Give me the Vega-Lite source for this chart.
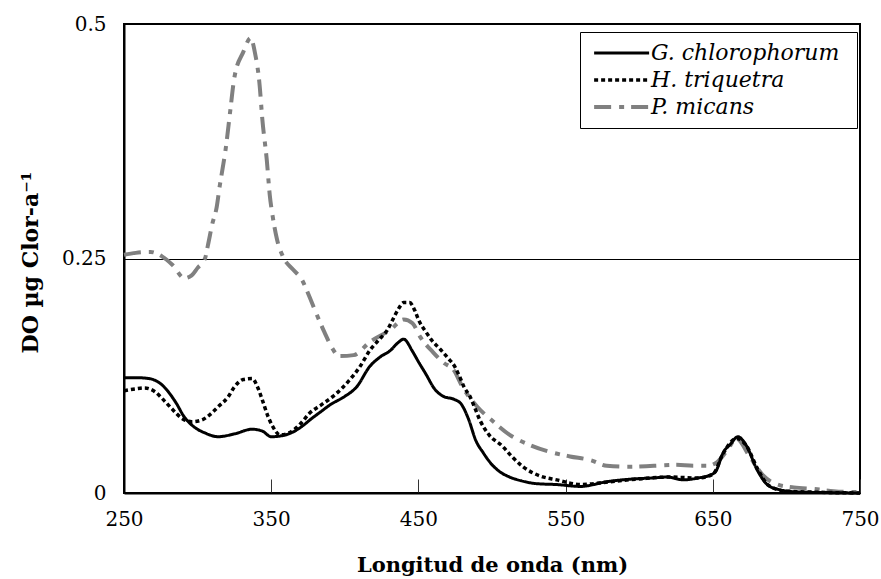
{
  "$schema": "https://vega.github.io/schema/vega-lite/v6.json",
  "width": 736,
  "height": 469,
  "autosize": {"type": "none"},
  "padding": {"left": 124, "top": 24, "right": 21, "bottom": 86},
  "background": "white",
  "config": {
    "view": {"stroke": "black", "strokeWidth": 2},
    "font": "DejaVu Serif",
    "axis": {
      "domainColor": "black",
      "domainWidth": 2,
      "labelColor": "black",
      "titleColor": "black",
      "labelFont": "DejaVu Serif",
      "titleFont": "DejaVu Serif"
    },
    "legend": {"labelFont": "DejaVu Serif"}
  },
  "datasets": {
    "spectra": [
      {"sp": "P.  micans", "wl": 250, "do": 0.254},
      {"sp": "P.  micans", "wl": 258, "do": 0.256},
      {"sp": "P.  micans", "wl": 268, "do": 0.257},
      {"sp": "P.  micans", "wl": 276, "do": 0.252},
      {"sp": "P.  micans", "wl": 283, "do": 0.243},
      {"sp": "P.  micans", "wl": 291, "do": 0.229},
      {"sp": "P.  micans", "wl": 296, "do": 0.232},
      {"sp": "P.  micans", "wl": 300, "do": 0.240},
      {"sp": "P.  micans", "wl": 305, "do": 0.250},
      {"sp": "P.  micans", "wl": 307, "do": 0.264},
      {"sp": "P.  micans", "wl": 310, "do": 0.287},
      {"sp": "P.  micans", "wl": 313, "do": 0.305},
      {"sp": "P.  micans", "wl": 315, "do": 0.327},
      {"sp": "P.  micans", "wl": 317, "do": 0.346},
      {"sp": "P.  micans", "wl": 319, "do": 0.366},
      {"sp": "P.  micans", "wl": 322, "do": 0.405},
      {"sp": "P.  micans", "wl": 325, "do": 0.443},
      {"sp": "P.  micans", "wl": 331, "do": 0.470},
      {"sp": "P.  micans", "wl": 336, "do": 0.485},
      {"sp": "P.  micans", "wl": 339, "do": 0.469},
      {"sp": "P.  micans", "wl": 342, "do": 0.437},
      {"sp": "P.  micans", "wl": 344, "do": 0.398},
      {"sp": "P.  micans", "wl": 347, "do": 0.355},
      {"sp": "P.  micans", "wl": 349, "do": 0.318},
      {"sp": "P.  micans", "wl": 351, "do": 0.295},
      {"sp": "P.  micans", "wl": 354, "do": 0.270},
      {"sp": "P.  micans", "wl": 358, "do": 0.252},
      {"sp": "P.  micans", "wl": 365, "do": 0.238},
      {"sp": "P.  micans", "wl": 371, "do": 0.227},
      {"sp": "P.  micans", "wl": 375, "do": 0.213},
      {"sp": "P.  micans", "wl": 381, "do": 0.190},
      {"sp": "P.  micans", "wl": 386, "do": 0.172},
      {"sp": "P.  micans", "wl": 392, "do": 0.153},
      {"sp": "P.  micans", "wl": 396, "do": 0.146},
      {"sp": "P.  micans", "wl": 406, "do": 0.147},
      {"sp": "P.  micans", "wl": 417, "do": 0.161},
      {"sp": "P.  micans", "wl": 431, "do": 0.174},
      {"sp": "P.  micans", "wl": 440, "do": 0.185},
      {"sp": "P.  micans", "wl": 446, "do": 0.181},
      {"sp": "P.  micans", "wl": 451, "do": 0.167},
      {"sp": "P.  micans", "wl": 460, "do": 0.150},
      {"sp": "P.  micans", "wl": 467, "do": 0.139},
      {"sp": "P.  micans", "wl": 474, "do": 0.131},
      {"sp": "P.  micans", "wl": 480, "do": 0.113},
      {"sp": "P.  micans", "wl": 490, "do": 0.092},
      {"sp": "P.  micans", "wl": 501, "do": 0.076},
      {"sp": "P.  micans", "wl": 512, "do": 0.062},
      {"sp": "P.  micans", "wl": 526, "do": 0.051},
      {"sp": "P.  micans", "wl": 539, "do": 0.044},
      {"sp": "P.  micans", "wl": 553, "do": 0.039},
      {"sp": "P.  micans", "wl": 567, "do": 0.035},
      {"sp": "P.  micans", "wl": 578, "do": 0.029},
      {"sp": "P.  micans", "wl": 592, "do": 0.028},
      {"sp": "P.  micans", "wl": 610, "do": 0.029},
      {"sp": "P.  micans", "wl": 625, "do": 0.030},
      {"sp": "P.  micans", "wl": 637, "do": 0.029},
      {"sp": "P.  micans", "wl": 646, "do": 0.029},
      {"sp": "P.  micans", "wl": 653, "do": 0.033},
      {"sp": "P.  micans", "wl": 660, "do": 0.046},
      {"sp": "P.  micans", "wl": 666, "do": 0.058},
      {"sp": "P.  micans", "wl": 675, "do": 0.039},
      {"sp": "P.  micans", "wl": 684, "do": 0.019},
      {"sp": "P.  micans", "wl": 694, "do": 0.009},
      {"sp": "P.  micans", "wl": 705, "do": 0.006},
      {"sp": "P.  micans", "wl": 721, "do": 0.004},
      {"sp": "P.  micans", "wl": 732, "do": 0.002},
      {"sp": "P.  micans", "wl": 745, "do": 0.001},
      {"sp": "P.  micans", "wl": 750, "do": 0.001},

      {"sp": "H.  triquetra", "wl": 250, "do": 0.109},
      {"sp": "H.  triquetra", "wl": 258, "do": 0.111},
      {"sp": "H.  triquetra", "wl": 264, "do": 0.112},
      {"sp": "H.  triquetra", "wl": 271, "do": 0.108},
      {"sp": "H.  triquetra", "wl": 277, "do": 0.099},
      {"sp": "H.  triquetra", "wl": 283, "do": 0.089},
      {"sp": "H.  triquetra", "wl": 289, "do": 0.080},
      {"sp": "H.  triquetra", "wl": 296, "do": 0.076},
      {"sp": "H.  triquetra", "wl": 303, "do": 0.078},
      {"sp": "H.  triquetra", "wl": 308, "do": 0.083},
      {"sp": "H.  triquetra", "wl": 314, "do": 0.092},
      {"sp": "H.  triquetra", "wl": 321, "do": 0.103},
      {"sp": "H.  triquetra", "wl": 325, "do": 0.113},
      {"sp": "H.  triquetra", "wl": 331, "do": 0.121},
      {"sp": "H.  triquetra", "wl": 337, "do": 0.122},
      {"sp": "H.  triquetra", "wl": 341, "do": 0.112},
      {"sp": "H.  triquetra", "wl": 344, "do": 0.099},
      {"sp": "H.  triquetra", "wl": 348, "do": 0.081},
      {"sp": "H.  triquetra", "wl": 351, "do": 0.071},
      {"sp": "H.  triquetra", "wl": 356, "do": 0.062},
      {"sp": "H.  triquetra", "wl": 362, "do": 0.064},
      {"sp": "H.  triquetra", "wl": 370, "do": 0.074},
      {"sp": "H.  triquetra", "wl": 376, "do": 0.085},
      {"sp": "H.  triquetra", "wl": 384, "do": 0.094},
      {"sp": "H.  triquetra", "wl": 392, "do": 0.103},
      {"sp": "H.  triquetra", "wl": 403, "do": 0.120},
      {"sp": "H.  triquetra", "wl": 410, "do": 0.134},
      {"sp": "H.  triquetra", "wl": 417, "do": 0.152},
      {"sp": "H.  triquetra", "wl": 423, "do": 0.163},
      {"sp": "H.  triquetra", "wl": 429, "do": 0.174},
      {"sp": "H.  triquetra", "wl": 432, "do": 0.183},
      {"sp": "H.  triquetra", "wl": 436, "do": 0.195},
      {"sp": "H.  triquetra", "wl": 440, "do": 0.203},
      {"sp": "H.  triquetra", "wl": 444, "do": 0.203},
      {"sp": "H.  triquetra", "wl": 448, "do": 0.193},
      {"sp": "H.  triquetra", "wl": 450, "do": 0.185},
      {"sp": "H.  triquetra", "wl": 455, "do": 0.172},
      {"sp": "H.  triquetra", "wl": 459, "do": 0.163},
      {"sp": "H.  triquetra", "wl": 465, "do": 0.153},
      {"sp": "H.  triquetra", "wl": 470, "do": 0.144},
      {"sp": "H.  triquetra", "wl": 475, "do": 0.134},
      {"sp": "H.  triquetra", "wl": 478, "do": 0.124},
      {"sp": "H.  triquetra", "wl": 481, "do": 0.113},
      {"sp": "H.  triquetra", "wl": 485, "do": 0.103},
      {"sp": "H.  triquetra", "wl": 488, "do": 0.092},
      {"sp": "H.  triquetra", "wl": 492, "do": 0.077},
      {"sp": "H.  triquetra", "wl": 498, "do": 0.062},
      {"sp": "H.  triquetra", "wl": 507, "do": 0.050},
      {"sp": "H.  triquetra", "wl": 514, "do": 0.038},
      {"sp": "H.  triquetra", "wl": 521, "do": 0.028},
      {"sp": "H.  triquetra", "wl": 533, "do": 0.018},
      {"sp": "H.  triquetra", "wl": 544, "do": 0.014},
      {"sp": "H.  triquetra", "wl": 560, "do": 0.009},
      {"sp": "H.  triquetra", "wl": 580, "do": 0.012},
      {"sp": "H.  triquetra", "wl": 600, "do": 0.015},
      {"sp": "H.  triquetra", "wl": 620, "do": 0.017},
      {"sp": "H.  triquetra", "wl": 640, "do": 0.016},
      {"sp": "H.  triquetra", "wl": 650, "do": 0.020},
      {"sp": "H.  triquetra", "wl": 657, "do": 0.042},
      {"sp": "H.  triquetra", "wl": 666, "do": 0.058},
      {"sp": "H.  triquetra", "wl": 673, "do": 0.050},
      {"sp": "H.  triquetra", "wl": 680, "do": 0.027},
      {"sp": "H.  triquetra", "wl": 688, "do": 0.008},
      {"sp": "H.  triquetra", "wl": 700, "do": 0.002},
      {"sp": "H.  triquetra", "wl": 750, "do": 0.0},

      {"sp": "G.  chlorophorum", "wl": 250, "do": 0.123},
      {"sp": "G.  chlorophorum", "wl": 258, "do": 0.123},
      {"sp": "G.  chlorophorum", "wl": 267, "do": 0.122},
      {"sp": "G.  chlorophorum", "wl": 276, "do": 0.115},
      {"sp": "G.  chlorophorum", "wl": 285, "do": 0.097},
      {"sp": "G.  chlorophorum", "wl": 291, "do": 0.081},
      {"sp": "G.  chlorophorum", "wl": 298, "do": 0.070},
      {"sp": "G.  chlorophorum", "wl": 305, "do": 0.064},
      {"sp": "G.  chlorophorum", "wl": 314, "do": 0.060},
      {"sp": "G.  chlorophorum", "wl": 325, "do": 0.063},
      {"sp": "G.  chlorophorum", "wl": 337, "do": 0.068},
      {"sp": "G.  chlorophorum", "wl": 344, "do": 0.066},
      {"sp": "G.  chlorophorum", "wl": 350, "do": 0.060},
      {"sp": "G.  chlorophorum", "wl": 357, "do": 0.061},
      {"sp": "G.  chlorophorum", "wl": 366, "do": 0.066},
      {"sp": "G.  chlorophorum", "wl": 370, "do": 0.070},
      {"sp": "G.  chlorophorum", "wl": 378, "do": 0.080},
      {"sp": "G.  chlorophorum", "wl": 384, "do": 0.087},
      {"sp": "G.  chlorophorum", "wl": 390, "do": 0.094},
      {"sp": "G.  chlorophorum", "wl": 400, "do": 0.103},
      {"sp": "G.  chlorophorum", "wl": 408, "do": 0.113},
      {"sp": "G.  chlorophorum", "wl": 417, "do": 0.135},
      {"sp": "G.  chlorophorum", "wl": 424, "do": 0.145},
      {"sp": "G.  chlorophorum", "wl": 431, "do": 0.152},
      {"sp": "G.  chlorophorum", "wl": 436, "do": 0.160},
      {"sp": "G.  chlorophorum", "wl": 440, "do": 0.164},
      {"sp": "G.  chlorophorum", "wl": 446, "do": 0.151},
      {"sp": "G.  chlorophorum", "wl": 450, "do": 0.140},
      {"sp": "G.  chlorophorum", "wl": 455, "do": 0.127},
      {"sp": "G.  chlorophorum", "wl": 461, "do": 0.111},
      {"sp": "G.  chlorophorum", "wl": 467, "do": 0.103},
      {"sp": "G.  chlorophorum", "wl": 474, "do": 0.100},
      {"sp": "G.  chlorophorum", "wl": 479, "do": 0.095},
      {"sp": "G.  chlorophorum", "wl": 484, "do": 0.079},
      {"sp": "G.  chlorophorum", "wl": 489, "do": 0.056},
      {"sp": "G.  chlorophorum", "wl": 494, "do": 0.043},
      {"sp": "G.  chlorophorum", "wl": 499, "do": 0.032},
      {"sp": "G.  chlorophorum", "wl": 505, "do": 0.023},
      {"sp": "G.  chlorophorum", "wl": 512, "do": 0.017},
      {"sp": "G.  chlorophorum", "wl": 520, "do": 0.013},
      {"sp": "G.  chlorophorum", "wl": 530, "do": 0.010},
      {"sp": "G.  chlorophorum", "wl": 544, "do": 0.009},
      {"sp": "G.  chlorophorum", "wl": 560, "do": 0.007},
      {"sp": "G.  chlorophorum", "wl": 578, "do": 0.012},
      {"sp": "G.  chlorophorum", "wl": 596, "do": 0.015},
      {"sp": "G.  chlorophorum", "wl": 609, "do": 0.016},
      {"sp": "G.  chlorophorum", "wl": 619, "do": 0.017},
      {"sp": "G.  chlorophorum", "wl": 630, "do": 0.014},
      {"sp": "G.  chlorophorum", "wl": 640, "do": 0.016},
      {"sp": "G.  chlorophorum", "wl": 648, "do": 0.019},
      {"sp": "G.  chlorophorum", "wl": 652, "do": 0.023},
      {"sp": "G.  chlorophorum", "wl": 657, "do": 0.043},
      {"sp": "G.  chlorophorum", "wl": 662, "do": 0.052},
      {"sp": "G.  chlorophorum", "wl": 667, "do": 0.060},
      {"sp": "G.  chlorophorum", "wl": 673, "do": 0.050},
      {"sp": "G.  chlorophorum", "wl": 680, "do": 0.025},
      {"sp": "G.  chlorophorum", "wl": 687, "do": 0.009},
      {"sp": "G.  chlorophorum", "wl": 694, "do": 0.004},
      {"sp": "G.  chlorophorum", "wl": 709, "do": 0.001},
      {"sp": "G.  chlorophorum", "wl": 725, "do": 0.0005},
      {"sp": "G.  chlorophorum", "wl": 750, "do": 0.0}
    ]
  },
  "data": {"name": "spectra"},
  "mark": {"type": "line", "interpolate": "monotone", "strokeCap": "butt"},
  "encoding": {
    "x": {
      "field": "wl",
      "type": "quantitative",
      "scale": {"domain": [250, 750], "nice": false, "zero": false},
      "axis": {
        "title": "Longitud de onda (nm)",
        "values": [250, 350, 450, 550, 650, 750],
        "format": "d",
        "grid": false,
        "tickSize": -14,
        "tickColor": "#333333",
        "tickWidth": 1,
        "labelFontSize": 20,
        "labelPadding": 30,
        "labelFlush": false,
        "titleFontSize": 21,
        "titleFontWeight": "bold",
        "titleY": 72,
        "titleBaseline": "middle"
      }
    },
    "y": {
      "field": "do",
      "type": "quantitative",
      "scale": {"domain": [0, 0.5], "nice": false},
      "axis": {
        "title": "DO µg Clor-a⁻¹",
        "values": [0, 0.25, 0.5],
        "format": ".2~f",
        "grid": true,
        "gridColor": "black",
        "gridWidth": 1,
        "gridOpacity": 1,
        "ticks": false,
        "labelFontSize": 20,
        "labelPadding": 18,
        "labelFlush": false,
        "titleFontSize": 22,
        "titleFontWeight": "bold",
        "titleX": -82,
        "titleY": 238
      }
    },
    "color": {
      "field": "sp",
      "type": "nominal",
      "scale": {
        "domain": ["G.  chlorophorum", "H.  triquetra", "P.  micans"],
        "range": ["#000000", "#000000", "#808080"]
      },
      "legend": {
        "orient": "none",
        "legendX": 456,
        "legendY": 8,
        "title": null,
        "strokeColor": "black",
        "fillColor": "white",
        "padding": 10,
        "symbolType": "M-1,0H7",
        "symbolSize": 189,
        "symbolStrokeWidth": 4,
        "labelFontSize": 22,
        "labelFontStyle": "italic",
        "labelColor": "black",
        "labelLimit": 400,
        "labelOffset": 39,
        "rowPadding": 5
      }
    },
    "strokeDash": {
      "field": "sp",
      "type": "nominal",
      "scale": {
        "domain": ["G.  chlorophorum", "H.  triquetra", "P.  micans"],
        "range": [[1, 0], [4, 3], [17, 8, 5, 7]]
      },
      "legend": {
        "orient": "none",
        "legendX": 456,
        "legendY": 8,
        "title": null,
        "strokeColor": "black",
        "fillColor": "white",
        "padding": 10,
        "symbolType": "M-1,0H7",
        "symbolSize": 189,
        "symbolStrokeWidth": 4,
        "labelFontSize": 22,
        "labelFontStyle": "italic",
        "labelColor": "black",
        "labelLimit": 400,
        "labelOffset": 39,
        "rowPadding": 5
      }
    },
    "strokeWidth": {
      "field": "sp",
      "type": "ordinal",
      "scale": {
        "domain": ["G.  chlorophorum", "H.  triquetra", "P.  micans"],
        "range": [3, 4, 4.5]
      },
      "legend": null
    }
  }
}
